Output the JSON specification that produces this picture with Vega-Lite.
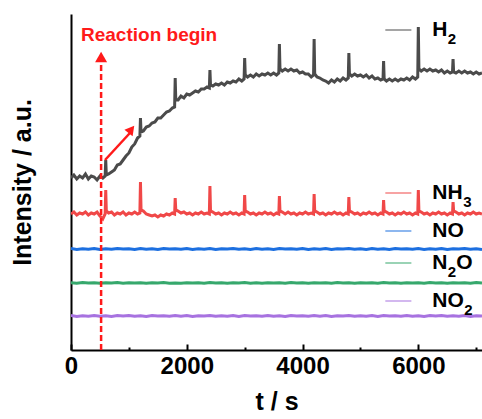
{
  "$schema": "https://vega.github.io/schema/vega-lite/v6.json",
  "width": 411,
  "height": 336,
  "autosize": {"type": "none"},
  "padding": {"left": 71, "top": 14, "right": 0, "bottom": 69},
  "config": {"view": {"stroke": null}, "font": "Liberation Sans"},
  "datasets": {
    "main": [
      {"t":0,"H2":172,"NH3":136},{"t":50,"H2":175,"NH3":138},{"t":100,"H2":171,"NH3":135},{"t":150,"H2":174,"NH3":137},
      {"t":200,"H2":172,"NH3":136},{"t":250,"H2":176,"NH3":138},{"t":300,"H2":171,"NH3":135},{"t":350,"H2":174,"NH3":137},
      {"t":400,"H2":173,"NH3":136},{"t":450,"H2":170,"NH3":138},{"t":500,"H2":174,"NH3":134},{"t":550,"H2":172,"NH3":131},
      {"t":590,"H2":174,"NH3":136},{"t":600,"H2":190,"NH3":160},{"t":610,"H2":175,"NH3":139},{"t":650,"H2":176,"NH3":137},
      {"t":700,"H2":178,"NH3":138},{"t":750,"H2":180,"NH3":135},{"t":800,"H2":185,"NH3":137},{"t":850,"H2":186,"NH3":136},
      {"t":900,"H2":190,"NH3":138},{"t":950,"H2":194,"NH3":135},{"t":1000,"H2":197,"NH3":137},{"t":1050,"H2":203,"NH3":136},
      {"t":1100,"H2":206,"NH3":138},{"t":1150,"H2":212,"NH3":136},{"t":1190,"H2":214,"NH3":137},{"t":1200,"H2":232,"NH3":168},
      {"t":1210,"H2":218,"NH3":140},{"t":1250,"H2":219,"NH3":139},{"t":1300,"H2":223,"NH3":136},{"t":1350,"H2":224,"NH3":135},
      {"t":1400,"H2":227,"NH3":134},{"t":1450,"H2":228,"NH3":135},{"t":1500,"H2":232,"NH3":133},{"t":1550,"H2":232,"NH3":135},
      {"t":1600,"H2":235,"NH3":134},{"t":1650,"H2":238,"NH3":136},{"t":1700,"H2":239,"NH3":135},{"t":1750,"H2":242,"NH3":137},
      {"t":1790,"H2":243,"NH3":136},{"t":1800,"H2":272,"NH3":152},{"t":1810,"H2":250,"NH3":140},{"t":1850,"H2":250,"NH3":139},
      {"t":1900,"H2":254,"NH3":137},{"t":1950,"H2":252,"NH3":138},{"t":2000,"H2":256,"NH3":136},{"t":2050,"H2":255,"NH3":137},
      {"t":2100,"H2":257,"NH3":135},{"t":2150,"H2":259,"NH3":137},{"t":2200,"H2":258,"NH3":136},{"t":2250,"H2":261,"NH3":138},
      {"t":2300,"H2":261,"NH3":136},{"t":2350,"H2":263,"NH3":137},{"t":2390,"H2":262,"NH3":136},{"t":2400,"H2":280,"NH3":164},
      {"t":2410,"H2":265,"NH3":139},{"t":2450,"H2":264,"NH3":138},{"t":2500,"H2":266,"NH3":136},{"t":2550,"H2":265,"NH3":137},
      {"t":2600,"H2":267,"NH3":135},{"t":2650,"H2":265,"NH3":137},{"t":2700,"H2":268,"NH3":136},{"t":2750,"H2":267,"NH3":138},
      {"t":2800,"H2":269,"NH3":136},{"t":2850,"H2":268,"NH3":137},{"t":2900,"H2":271,"NH3":135},{"t":2950,"H2":269,"NH3":137},
      {"t":2990,"H2":271,"NH3":136},{"t":3000,"H2":292,"NH3":155},{"t":3010,"H2":275,"NH3":139},{"t":3050,"H2":273,"NH3":138},
      {"t":3100,"H2":275,"NH3":136},{"t":3150,"H2":273,"NH3":137},{"t":3200,"H2":276,"NH3":135},{"t":3250,"H2":274,"NH3":137},
      {"t":3300,"H2":276,"NH3":136},{"t":3350,"H2":275,"NH3":138},{"t":3400,"H2":277,"NH3":136},{"t":3450,"H2":275,"NH3":137},
      {"t":3500,"H2":277,"NH3":135},{"t":3550,"H2":275,"NH3":137},{"t":3590,"H2":277,"NH3":136},{"t":3600,"H2":306,"NH3":154},
      {"t":3610,"H2":281,"NH3":139},{"t":3650,"H2":279,"NH3":138},{"t":3700,"H2":281,"NH3":136},{"t":3750,"H2":279,"NH3":138},
      {"t":3800,"H2":281,"NH3":136},{"t":3850,"H2":279,"NH3":137},{"t":3900,"H2":280,"NH3":135},{"t":3950,"H2":277,"NH3":137},
      {"t":4000,"H2":278,"NH3":136},{"t":4050,"H2":276,"NH3":138},{"t":4100,"H2":276,"NH3":136},{"t":4150,"H2":273,"NH3":137},
      {"t":4190,"H2":275,"NH3":136},{"t":4200,"H2":311,"NH3":156},{"t":4210,"H2":276,"NH3":139},{"t":4250,"H2":273,"NH3":138},
      {"t":4300,"H2":272,"NH3":136},{"t":4350,"H2":270,"NH3":137},{"t":4400,"H2":269,"NH3":135},{"t":4450,"H2":267,"NH3":137},
      {"t":4500,"H2":270,"NH3":136},{"t":4550,"H2":268,"NH3":138},{"t":4600,"H2":271,"NH3":136},{"t":4650,"H2":269,"NH3":137},
      {"t":4700,"H2":272,"NH3":135},{"t":4750,"H2":270,"NH3":137},{"t":4790,"H2":272,"NH3":136},{"t":4800,"H2":297,"NH3":153},
      {"t":4810,"H2":276,"NH3":139},{"t":4850,"H2":274,"NH3":138},{"t":4900,"H2":276,"NH3":136},{"t":4950,"H2":274,"NH3":137},
      {"t":5000,"H2":275,"NH3":135},{"t":5050,"H2":273,"NH3":137},{"t":5100,"H2":275,"NH3":136},{"t":5150,"H2":272,"NH3":138},
      {"t":5200,"H2":274,"NH3":136},{"t":5250,"H2":271,"NH3":137},{"t":5300,"H2":272,"NH3":135},{"t":5350,"H2":270,"NH3":137},
      {"t":5390,"H2":271,"NH3":136},{"t":5400,"H2":289,"NH3":150},{"t":5410,"H2":271,"NH3":139},{"t":5450,"H2":269,"NH3":138},
      {"t":5500,"H2":271,"NH3":136},{"t":5550,"H2":269,"NH3":137},{"t":5600,"H2":271,"NH3":135},{"t":5650,"H2":269,"NH3":137},
      {"t":5700,"H2":271,"NH3":136},{"t":5750,"H2":270,"NH3":138},{"t":5800,"H2":272,"NH3":136},{"t":5850,"H2":270,"NH3":137},
      {"t":5900,"H2":273,"NH3":135},{"t":5950,"H2":271,"NH3":137},{"t":5990,"H2":273,"NH3":136},{"t":6000,"H2":323,"NH3":160},
      {"t":6010,"H2":281,"NH3":139},{"t":6050,"H2":279,"NH3":138},{"t":6100,"H2":281,"NH3":136},{"t":6150,"H2":279,"NH3":137},
      {"t":6200,"H2":281,"NH3":135},{"t":6250,"H2":279,"NH3":137},{"t":6300,"H2":280,"NH3":136},{"t":6350,"H2":278,"NH3":138},
      {"t":6400,"H2":280,"NH3":136},{"t":6450,"H2":277,"NH3":137},{"t":6500,"H2":279,"NH3":135},{"t":6550,"H2":277,"NH3":137},
      {"t":6590,"H2":278,"NH3":136},{"t":6600,"H2":291,"NH3":148},{"t":6610,"H2":278,"NH3":139},{"t":6650,"H2":277,"NH3":138},
      {"t":6700,"H2":279,"NH3":136},{"t":6750,"H2":277,"NH3":137},{"t":6800,"H2":279,"NH3":135},{"t":6850,"H2":277,"NH3":137},
      {"t":6900,"H2":278,"NH3":136},{"t":6950,"H2":276,"NH3":138},{"t":7000,"H2":278,"NH3":136},{"t":7050,"H2":276,"NH3":137},
      {"t":7100,"H2":277,"NH3":136}
    ],
    "flat": [
      {"t":0,"NO":101.4,"N2O":67.3,"NO2":34.5},{"t":100,"NO":100.6,"N2O":66.8,"NO2":33.6},{"t":200,"NO":101.2,"N2O":67.4,"NO2":34.2},
      {"t":300,"NO":100.8,"N2O":66.9,"NO2":33.8},{"t":400,"NO":101.5,"N2O":67.2,"NO2":34.6},{"t":500,"NO":100.5,"N2O":66.7,"NO2":33.7},
      {"t":600,"NO":101.3,"N2O":67.3,"NO2":34.3},{"t":700,"NO":100.7,"N2O":67.0,"NO2":33.5},{"t":800,"NO":101.6,"N2O":67.4,"NO2":34.4},
      {"t":900,"NO":100.9,"N2O":66.8,"NO2":33.9},{"t":1000,"NO":101.2,"N2O":67.2,"NO2":34.6},{"t":1100,"NO":100.6,"N2O":66.9,"NO2":33.8},
      {"t":1200,"NO":101.4,"N2O":67.3,"NO2":34.2},{"t":1300,"NO":100.8,"N2O":66.7,"NO2":33.6},{"t":1400,"NO":101.3,"N2O":67.2,"NO2":34.5},
      {"t":1500,"NO":100.5,"N2O":66.9,"NO2":33.9},{"t":1600,"NO":101.5,"N2O":67.4,"NO2":34.3},{"t":1700,"NO":100.9,"N2O":66.8,"NO2":33.7},
      {"t":1800,"NO":101.2,"N2O":67.1,"NO2":34.6},{"t":1900,"NO":100.7,"N2O":66.8,"NO2":33.8},{"t":2000,"NO":101.4,"N2O":67.3,"NO2":34.4},
      {"t":2100,"NO":100.6,"N2O":66.9,"NO2":33.6},{"t":2200,"NO":101.3,"N2O":67.2,"NO2":34.3},{"t":2300,"NO":100.8,"N2O":66.7,"NO2":33.9},
      {"t":2400,"NO":101.5,"N2O":67.4,"NO2":34.5},{"t":2500,"NO":100.6,"N2O":66.9,"NO2":33.7},{"t":2600,"NO":101.2,"N2O":67.3,"NO2":34.2},
      {"t":2700,"NO":100.9,"N2O":66.8,"NO2":33.8},{"t":2800,"NO":101.4,"N2O":67.2,"NO2":34.6},{"t":2900,"NO":100.7,"N2O":66.9,"NO2":33.6},
      {"t":3000,"NO":101.3,"N2O":67.4,"NO2":34.4},{"t":3100,"NO":100.5,"N2O":66.8,"NO2":33.9},{"t":3200,"NO":101.5,"N2O":67.2,"NO2":34.3},
      {"t":3300,"NO":100.8,"N2O":66.7,"NO2":33.7},{"t":3400,"NO":101.2,"N2O":67.3,"NO2":34.5},{"t":3500,"NO":100.6,"N2O":66.9,"NO2":33.8},
      {"t":3600,"NO":101.4,"N2O":67.2,"NO2":34.2},{"t":3700,"NO":100.9,"N2O":66.8,"NO2":33.6},{"t":3800,"NO":101.3,"N2O":67.4,"NO2":34.6},
      {"t":3900,"NO":100.7,"N2O":66.9,"NO2":33.9},{"t":4000,"NO":101.5,"N2O":67.2,"NO2":34.3},{"t":4100,"NO":100.6,"N2O":66.7,"NO2":33.7},
      {"t":4200,"NO":101.2,"N2O":67.3,"NO2":34.4},{"t":4300,"NO":100.8,"N2O":66.9,"NO2":33.8},{"t":4400,"NO":101.4,"N2O":67.2,"NO2":34.5},
      {"t":4500,"NO":100.5,"N2O":66.8,"NO2":33.6},{"t":4600,"NO":101.3,"N2O":67.4,"NO2":34.2},{"t":4700,"NO":100.9,"N2O":66.9,"NO2":33.9},
      {"t":4800,"NO":101.5,"N2O":67.2,"NO2":34.6},{"t":4900,"NO":100.7,"N2O":66.7,"NO2":33.7},{"t":5000,"NO":101.2,"N2O":67.3,"NO2":34.3},
      {"t":5100,"NO":100.6,"N2O":66.9,"NO2":33.8},{"t":5200,"NO":101.4,"N2O":67.2,"NO2":34.4},{"t":5300,"NO":100.8,"N2O":66.8,"NO2":33.6},
      {"t":5400,"NO":101.3,"N2O":67.4,"NO2":34.5},{"t":5500,"NO":100.5,"N2O":66.9,"NO2":33.9},{"t":5600,"NO":101.5,"N2O":67.2,"NO2":34.2},
      {"t":5700,"NO":100.9,"N2O":66.7,"NO2":33.7},{"t":5800,"NO":101.2,"N2O":67.3,"NO2":34.6},{"t":5900,"NO":100.7,"N2O":66.9,"NO2":33.8},
      {"t":6000,"NO":101.4,"N2O":67.2,"NO2":34.3},{"t":6100,"NO":100.6,"N2O":66.8,"NO2":33.6},{"t":6200,"NO":101.3,"N2O":67.4,"NO2":34.4},
      {"t":6300,"NO":100.8,"N2O":66.9,"NO2":33.9},{"t":6400,"NO":101.5,"N2O":67.2,"NO2":34.5},{"t":6500,"NO":100.5,"N2O":66.7,"NO2":33.7},
      {"t":6600,"NO":101.2,"N2O":67.3,"NO2":34.2},{"t":6700,"NO":100.9,"N2O":66.9,"NO2":33.8},{"t":6800,"NO":101.4,"N2O":67.2,"NO2":34.6},
      {"t":6900,"NO":100.7,"N2O":66.8,"NO2":33.6},{"t":7000,"NO":101.3,"N2O":67.4,"NO2":34.3},{"t":7100,"NO":100.6,"N2O":66.9,"NO2":33.9}
    ],
    "legend": [
      {"s":"H2","main":"H","sub":"2","tail":"","v":320},
      {"s":"NH3","main":"NH","sub":"3","tail":"","v":157},
      {"s":"NO","main":"NO","sub":"","tail":"","v":119},
      {"s":"N2O","main":"N","sub":"2","tail":"O","v":87},
      {"s":"NO2","main":"NO","sub":"2","tail":"","v":49}
    ],
    "vline": [{"t":520,"v":0,"v2":290}],
    "vhead": [{"t":520,"v":293}],
    "sline": [{"t":588,"t2":1050,"v":190,"v2":219}],
    "shead": [{"t":1043,"v":220.6}],
    "note": [{"t":173,"v":315,"txt":"Reaction begin"}]
  },
  "layer": [
    {
      "data": {"name": "main"},
      "transform": [{"fold": ["H2", "NH3"], "as": ["s", "v"]}],
      "mark": {"type": "line", "strokeWidth": 3, "clip": true},
      "encoding": {
        "x": {
          "field": "t", "type": "quantitative",
          "scale": {"domain": [0, 7100], "nice": false, "zero": false},
          "axis": {
            "values": [0, 1000, 2000, 3000, 4000, 5000, 6000, 7000],
            "format": "d",
            "labelExpr": "datum.value % 2000 === 0 ? datum.label : ''",
            "labelFont": "Liberation Sans", "labelFontSize": 24, "labelFontWeight": "bold", "labelColor": "black",
            "labelFlush": false, "labelOverlap": false, "labelPadding": 10,
            "tickSize": {"condition": {"test": "datum.value % 2000 === 0", "value": -6}, "value": -3},
            "tickWidth": 2, "tickColor": "black",
            "domainColor": "black", "domainWidth": 2, "grid": false,
            "title": "t / s", "titleFont": "Liberation Sans", "titleFontSize": 25, "titleFontWeight": "bold",
            "titleColor": "black", "titlePadding": 8
          }
        },
        "y": {
          "field": "v", "type": "quantitative",
          "scale": {"domain": [0, 336], "nice": false},
          "axis": {
            "title": "Intensity / a.u.", "labels": false, "ticks": false,
            "domainColor": "black", "domainWidth": 2, "grid": false,
            "titleFont": "Liberation Sans", "titleFontSize": 25, "titleFontWeight": "bold",
            "titleColor": "black", "titlePadding": 36
          }
        },
        "color": {
          "field": "s", "type": "nominal",
          "scale": {"domain": ["H2", "NH3", "NO", "N2O", "NO2"], "range": ["#4b4b4b", "#f04848", "#1c6fe0", "#36a86c", "#a772e0"]},
          "legend": null
        }
      }
    },
    {
      "data": {"name": "flat"},
      "transform": [{"fold": ["NO", "N2O", "NO2"], "as": ["s", "v"]}],
      "mark": {"type": "line", "strokeWidth": 3, "clip": true},
      "encoding": {
        "x": {"field": "t", "type": "quantitative"},
        "y": {"field": "v", "type": "quantitative"},
        "color": {"field": "s", "type": "nominal", "legend": null}
      }
    },
    {
      "data": {"name": "legend"},
      "mark": {"type": "rule", "strokeWidth": 2, "opacity": 0.5},
      "encoding": {
        "x": {"datum": 5430, "type": "quantitative"},
        "x2": {"datum": 5880},
        "y": {"field": "v", "type": "quantitative"},
        "color": {"field": "s", "type": "nominal", "legend": null}
      }
    },
    {
      "data": {"name": "legend"},
      "mark": {"type": "text", "align": "left", "baseline": "middle", "font": "Liberation Sans", "fontSize": 21, "fontWeight": "bold", "color": "black"},
      "encoding": {
        "x": {"datum": 6240, "type": "quantitative"},
        "y": {"field": "v", "type": "quantitative"},
        "text": {"field": "main"}
      }
    },
    {
      "data": {"name": "legend"},
      "transform": [{"filter": "datum.s === 'H2' || datum.s === 'N2O'"}],
      "mark": {"type": "text", "align": "left", "baseline": "middle", "font": "Liberation Sans", "fontSize": 15, "fontWeight": "bold", "color": "black", "dx": 15.5, "dy": 9},
      "encoding": {
        "x": {"datum": 6240, "type": "quantitative"},
        "y": {"field": "v", "type": "quantitative"},
        "text": {"field": "sub"}
      }
    },
    {
      "data": {"name": "legend"},
      "transform": [{"filter": "datum.s === 'NH3'"}],
      "mark": {"type": "text", "align": "left", "baseline": "middle", "font": "Liberation Sans", "fontSize": 15, "fontWeight": "bold", "color": "black", "dx": 31, "dy": 9},
      "encoding": {
        "x": {"datum": 6240, "type": "quantitative"},
        "y": {"field": "v", "type": "quantitative"},
        "text": {"field": "sub"}
      }
    },
    {
      "data": {"name": "legend"},
      "transform": [{"filter": "datum.s === 'NO2'"}],
      "mark": {"type": "text", "align": "left", "baseline": "middle", "font": "Liberation Sans", "fontSize": 15, "fontWeight": "bold", "color": "black", "dx": 32, "dy": 9},
      "encoding": {
        "x": {"datum": 6240, "type": "quantitative"},
        "y": {"field": "v", "type": "quantitative"},
        "text": {"field": "sub"}
      }
    },
    {
      "data": {"name": "legend"},
      "transform": [{"filter": "datum.s === 'N2O'"}],
      "mark": {"type": "text", "align": "left", "baseline": "middle", "font": "Liberation Sans", "fontSize": 21, "fontWeight": "bold", "color": "black", "dx": 24},
      "encoding": {
        "x": {"datum": 6240, "type": "quantitative"},
        "y": {"field": "v", "type": "quantitative"},
        "text": {"field": "tail"}
      }
    },
    {
      "data": {"name": "vline"},
      "mark": {"type": "rule", "color": "#ff1a1a", "strokeWidth": 2.5, "strokeDash": [6, 3]},
      "encoding": {
        "x": {"field": "t", "type": "quantitative"},
        "y": {"field": "v", "type": "quantitative"},
        "y2": {"field": "v2"}
      }
    },
    {
      "data": {"name": "vhead"},
      "mark": {"type": "point", "shape": "triangle-up", "filled": true, "color": "#ff1a1a", "size": 144, "opacity": 1},
      "encoding": {
        "x": {"field": "t", "type": "quantitative"},
        "y": {"field": "v", "type": "quantitative"}
      }
    },
    {
      "data": {"name": "sline"},
      "mark": {"type": "rule", "color": "#ff1a1a", "strokeWidth": 2.5},
      "encoding": {
        "x": {"field": "t", "type": "quantitative"},
        "x2": {"field": "t2"},
        "y": {"field": "v", "type": "quantitative"},
        "y2": {"field": "v2"}
      }
    },
    {
      "data": {"name": "shead"},
      "mark": {"type": "point", "shape": "triangle-up", "filled": true, "color": "#ff1a1a", "size": 110, "angle": 39, "opacity": 1},
      "encoding": {
        "x": {"field": "t", "type": "quantitative"},
        "y": {"field": "v", "type": "quantitative"}
      }
    },
    {
      "data": {"name": "note"},
      "mark": {"type": "text", "align": "left", "baseline": "middle", "font": "Liberation Sans", "fontSize": 19, "fontWeight": "bold", "color": "#ff1a1a"},
      "encoding": {
        "x": {"field": "t", "type": "quantitative"},
        "y": {"field": "v", "type": "quantitative"},
        "text": {"field": "txt"}
      }
    },
    {
      "mark": {"type": "rule", "color": "black", "strokeWidth": 2},
      "encoding": {"y": {"datum": 336, "type": "quantitative"}}
    }
  ]
}
